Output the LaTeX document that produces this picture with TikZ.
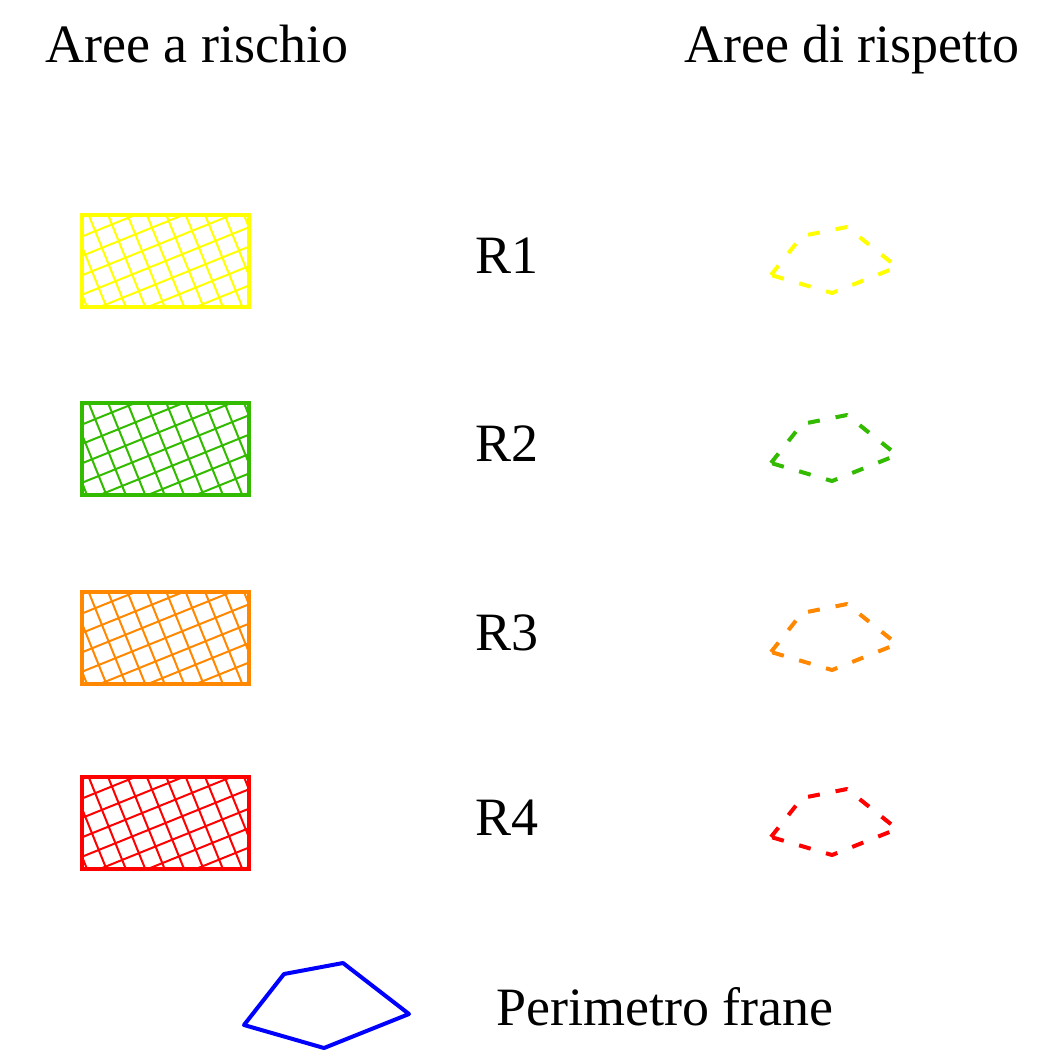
\documentclass[tikz,border=0pt]{standalone}
\usepackage{fontspec}
\setmainfont{Liberation Serif}
\usepackage{tikz}
\usetikzlibrary{positioning}

\definecolor{riskyellow}{RGB}{255,255,0}
\definecolor{riskgreen}{RGB}{51,187,0}
\definecolor{riskorange}{RGB}{255,136,0}
\definecolor{riskred}{RGB}{255,0,0}
\definecolor{frameblue}{RGB}{0,0,255}

\begin{document}
\begin{tikzpicture}[x=0.5pt, y=-0.5pt, node distance=93.5pt,
  lbl/.style={font=\fontsize{27}{32}\selectfont, inner sep=0pt, anchor=base},
  riskframe/.style={line width=2pt},
  hatchline/.style={line width=1pt},
  respect/.style={line width=2pt, dash pattern=on 6pt off 8pt, line join=round},
  perimeter/.style={line width=2pt, draw=frameblue, line join=round}]

\useasboundingbox (0,0) rectangle (1043,1062);

% titles
\node[lbl] (titlerisk) at (197,62) {Aree a rischio};
\node[lbl] (titlerespect) at (852,62) {Aree di rispetto};

% rows: hatched box, class label, dashed respect area
\foreach \col/\yy/\lab in {riskyellow/261/R1, riskgreen/449/R2, riskorange/638/R3, riskred/823/R4} {
  \begin{scope}
    \clip (82,\yy-46) rectangle (249,\yy+46);
    \begin{scope}[shift={(165.5,\yy)}, rotate=22]
      \foreach \k in {-144,-126,...,144} {
        \draw[hatchline, \col] (-150,\k) -- (150,\k);
        \draw[hatchline, \col] (\k,-150) -- (\k,150);
      }
    \end{scope}
  \end{scope}
  \draw[riskframe, \col] (82,\yy-46) rectangle (249,\yy+46);
  \node[lbl] (lab\lab) at (507,\yy+12) {\lab};
  \draw[respect, \col] (771,\yy+14) -- (802,\yy-25) -- (847,\yy-34) -- (897,\yy+6) -- (832,\yy+32) -- cycle;
}

% legend
\draw[perimeter] (244,1025) -- (284,974) -- (343,963) -- (409,1014) -- (324,1048) -- cycle;
\node[lbl] (perim) at (665,1025) {Perimetro frane};

\end{tikzpicture}
\end{document}
